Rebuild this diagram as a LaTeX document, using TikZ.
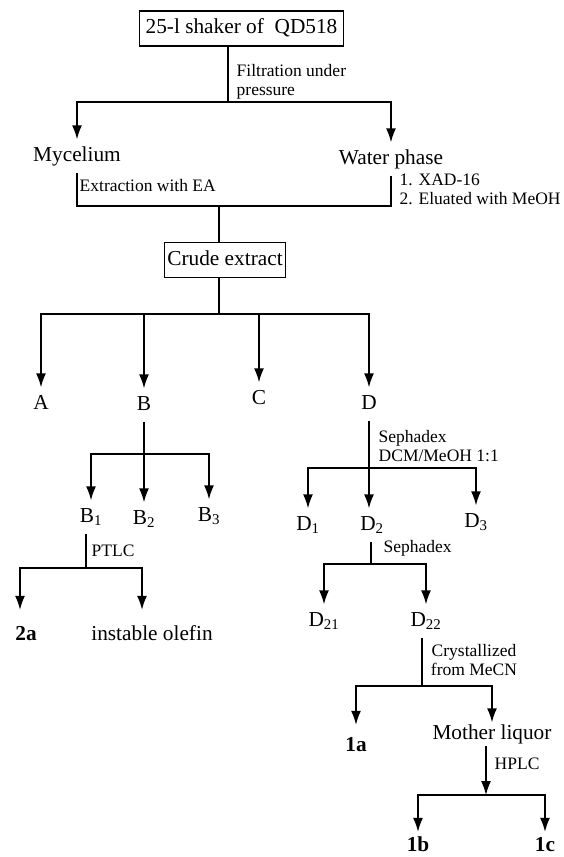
\documentclass[tikz,border=0pt]{standalone}
\usepackage{fontspec}
\setmainfont{Liberation Serif}
\usetikzlibrary{arrows.meta}

\tikzset{
  box/.style={draw, line width=1.2pt, inner xsep=3pt, minimum height=35pt,
    font=\fontsize{21.3}{25}\selectfont, text height=14.5pt, text depth=4.5pt},
  lbl/.style={font=\fontsize{21.3}{25}\selectfont, text height=14.5pt,
    text depth=4.5pt, inner xsep=2pt, inner ysep=6.5pt},
  cmpd/.style={lbl, font=\fontsize{21.3}{25}\selectfont\bfseries, inner ysep=11pt},
  note/.style={font=\fontsize{17.5}{19}\selectfont, anchor=west, align=left,
    inner sep=0pt},
}

\begin{document}
\begin{tikzpicture}[>={Latex[length=14pt,width=10pt]}, x=1pt, y=-1pt, line width=1.4pt]

% page frame
\useasboundingbox (0,0) rectangle (564,857);

% culture and filtration
\node[box, inner xsep=6pt] (shaker) at (241.5,28.5) {25-l shaker of~~QD518};
\coordinate (filt) at (228,102);
\draw (shaker.south -| filt) -- (filt);
\node[note] (filtlbl) at (236,82) {Filtration under\\pressure};

\node[lbl] (myc) at (77,156) {Mycelium};
\node[lbl] (water) at (391,159) {Water phase};
\draw[->] (filt) -| (myc);
\draw[->] (filt) -| (water);

% work-up of both phases
\coordinate (pool) at (219,206);
\draw (myc) |- (pool);
\draw (water) |- (pool);
\node[note] (extrlbl) at (79,186) {Extraction with EA};
\node[note] (xadlbl) at (399,189) {1. XAD-16\\2. Eluated with MeOH};

\node[box] (crude) at (225,260) {Crude extract};
\draw (pool) -- (pool |- crude.north);

% fractions A-D
\coordinate (frac) at (219,314);
\draw (crude.south -| frac) -- (frac);
\node[lbl] (A) at (41,404) {A};
\node[lbl] (B) at (144,405) {B};
\node[lbl] (C) at (259,399) {C};
\node[lbl] (D) at (369,404) {D};
\draw[->] (frac) -| (A);
\draw[->] (frac) -| (B);
\draw[->] (frac) -| (C);
\draw[->] (frac) -| (D);

% fraction B
\coordinate (bsplit) at (144,454);
\draw (B) -- (bsplit);
\node[lbl] (B1) at (91,517) {B\textsubscript{1}};
\node[lbl] (B2) at (144,519) {B\textsubscript{2}};
\node[lbl] (B3) at (209,516) {B\textsubscript{3}};
\draw[->] (bsplit) -| (B1);
\draw[->] (bsplit) -- (B2);
\draw[->] (bsplit) -| (B3);

\coordinate (ptlc) at (86,568);
\draw (B1.south -| ptlc) -- (ptlc);
\node[note] (ptlclbl) at (91,551) {PTLC};
\node[cmpd, inner ysep=15pt] (p2a) at (26,635) {2a};
\node[lbl, inner ysep=15pt] (olefin) at (152,635) {instable olefin};
\draw[->] (ptlc) -| ([xshift=-6pt]p2a.north);
\draw[->] (ptlc) -| ([xshift=-10pt]olefin.north);

% fraction D
\coordinate (dsplit) at (369,468);
\draw (D) -- (dsplit);
\node[note] (seph1lbl) at (378,446) {Sephadex\\DCM/MeOH 1:1};
\node[lbl] (D1) at (308,525) {D\textsubscript{1}};
\node[lbl] (D2) at (372,525) {D\textsubscript{2}};
\node[lbl] (D3) at (476,522) {D\textsubscript{3}};
\draw[->] (dsplit) -| (D1);
\draw[->] (dsplit) -- (dsplit |- D2.north);
\draw[->] (dsplit) -| (D3);

\coordinate (d2split) at (371,564);
\draw (D2.south -| d2split) -- (d2split);
\node[note] (seph2lbl) at (383,548) {Sephadex};
\node[lbl] (D21) at (324,621) {D\textsubscript{21}};
\node[lbl] (D22) at (426,621) {D\textsubscript{22}};
\draw[->] (d2split) -| (D21);
\draw[->] (d2split) -| (D22);

% crystallization and HPLC
\coordinate (cryst) at (422,686);
\draw (D22.south -| cryst) -- (cryst);
\node[note, anchor=center, align=center] (crystlbl) at (474,660) {Crystallized\\from MeCN};
\node[cmpd] (p1a) at (356,746) {1a};
\node[lbl, inner ysep=1.5pt] (mother) at (492,734) {Mother liquor};
\draw[->] (cryst) -| (p1a);
\draw[->] (cryst) -| (mother);

\coordinate (hplc) at (486,795);
\draw[->] (mother.south -| hplc) -- (hplc);
\node[note] (hplclbl) at (494,764) {HPLC};
\node[cmpd, inner ysep=4pt] (p1b) at (418,846) {1b};
\node[cmpd, inner ysep=4pt] (p1c) at (545,846) {1c};
\draw[->] (hplc) -| (p1b);
\draw[->] (hplc) -| (p1c);

\end{tikzpicture}
\end{document}
